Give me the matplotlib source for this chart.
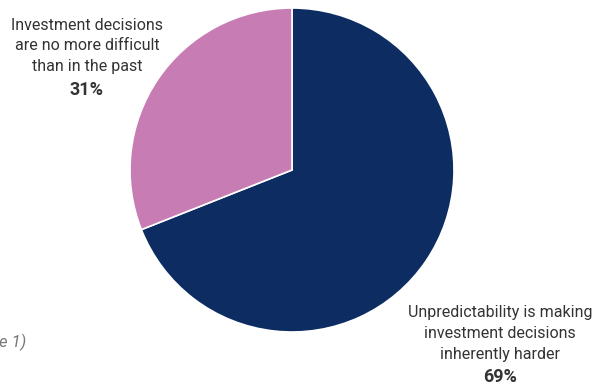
import matplotlib.pyplot as plt

# survey split
labels = ['Unpredictability is making\ninvestment decisions\ninherently harder',
          'Investment decisions\nare no more difficult\nthan in the past']
shares = [69, 31]
colors = ['#0d2d62', '#c77db3']

W, H = 602, 387
plt.rcParams['font.family'] = ['Roboto', 'DejaVu Sans']

fig = plt.figure(figsize=(W / 100, H / 100), dpi=100)
ax = fig.add_axes([0, 0, 1, 1])

ax.pie(shares, colors=colors, startangle=90, counterclock=False,
       center=(292, H - 170), radius=162,
       wedgeprops=dict(edgecolor='white', linewidth=1.2))
# pie() resets the view, so fix the pixel-like limits afterwards
ax.set_xlim(0, W)
ax.set_ylim(0, H)
ax.set_aspect('equal')
ax.axis('off')

txt = '#333333'
fs = 11.5
# pink slice label (top left)
ax.text(87, H - 46, labels[1], ha='center', va='center', fontsize=fs,
        color=txt, linespacing=1.5)
ax.text(87, H - 90, f'{shares[1]}%', ha='center', va='center', fontsize=13,
        color=txt, fontweight='bold')
# navy slice label (bottom right)
ax.text(500, H - 333, labels[0], ha='center', va='center', fontsize=fs,
        color=txt, linespacing=1.5)
ax.text(500, H - 377, f'{shares[0]}%', ha='center', va='center', fontsize=13,
        color=txt, fontweight='bold')

# source note at the left edge
ax.text(-1, H - 342, 'e 1)', ha='left', va='center', fontsize=12,
        color='#777777', style='italic')

fig.savefig('out.png', dpi=100)
